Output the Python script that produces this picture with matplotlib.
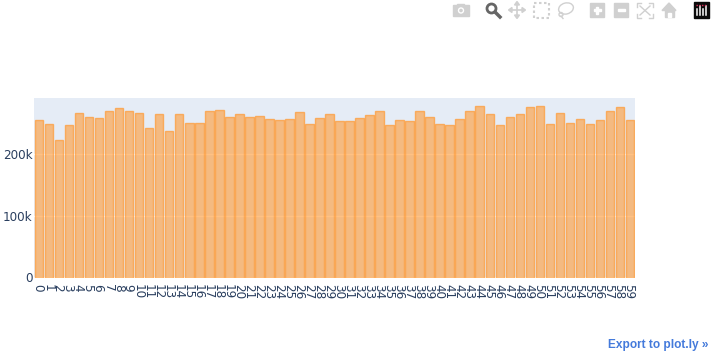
import matplotlib
matplotlib.use('Agg')
import matplotlib.pyplot as plt
from matplotlib.patches import Rectangle, Circle, Ellipse, Polygon
from matplotlib.transforms import ScaledTranslation

categories = list(range(60))
values = [255.8, 249.3, 222.7, 247.6, 267.2, 261.3, 259.7, 270.0, 274.4, 271.1,
          266.7, 242.7, 265.1, 237.8, 266.2, 250.4, 251.5, 271.1, 271.6, 260.7,
          265.1, 261.3, 262.3, 258.0, 255.0, 256.5, 268.0, 250.0, 259.5, 265.0,
          254.5, 254.8, 259.5, 264.5, 269.5, 247.0, 256.0, 254.0, 270.0, 260.5,
          250.0, 247.5, 256.5, 270.0, 278.0, 265.0, 247.0, 260.5, 265.0, 276.5,
          279.0, 249.0, 266.5, 251.0, 257.5, 250.0, 255.5, 270.0, 277.0, 256.0]
values = [v * 1000 for v in values]
y_ticks = [0, 100000, 200000]
y_labels = ['0', '100k', '200k']

W, H = 716, 359
plt.rcParams['font.family'] = ['DejaVu Sans']
fig = plt.figure(figsize=(W / 100, H / 100), dpi=100)
ax = fig.add_axes([34 / W, 1 - 277.5 / H, 601 / W, 179.5 / H])

ax.set_facecolor('#E5ECF6')
ax.bar(categories, values, width=0.85, color=(1, 0.6, 0.2, 0.6),
       edgecolor=(1, 0.6, 0.2, 0.7), linewidth=1, zorder=3)
ax.set_xlim(-0.5, 59.5)
ax.set_ylim(0, 291400)
ax.set_yticks(y_ticks)
ax.set_yticklabels(y_labels)
ax.set_xticks(categories)
ax.set_xticklabels([str(c) for c in categories], rotation=270, ha='center', va='top')
ax.tick_params(length=0, labelsize=8.64, labelcolor='#2a3f5f')
ax.tick_params(axis='x', pad=4.5)
ax.tick_params(axis='y', pad=1)
# nudge the rotated labels one pixel left, they sit off centre otherwise
nudge = ScaledTranslation(-1 / 100, 0, fig.dpi_scale_trans)
for lab in ax.get_xticklabels():
    lab.set_transform(lab.get_transform() + nudge)
ax.grid(axis='y', color='white', linewidth=1, zorder=1)
ax.set_axisbelow(True)
ax.axhline(0, color='white', linewidth=2, zorder=2)
for s in ax.spines.values():
    s.set_visible(False)

fig.text(708 / W, 1 - 345 / H, 'Export to plot.ly »', color='#447adb', fontsize=8.6,
         fontfamily='Liberation Sans', fontweight='bold', ha='right', va='center')

# modebar icons, drawn in pixel coordinates
bar = fig.add_axes([0, 0, 1, 1], facecolor='none')
bar.set_xlim(0, W)
bar.set_ylim(H, 0)
bar.axis('off')
grey = '#d0d0d0'

# camera
bar.add_patch(Rectangle((453, 5), 16, 11, color=grey))
bar.add_patch(Rectangle((457, 3.5), 7, 2, color=grey))
bar.add_patch(Circle((461, 10.5), 3.2, fc='white', ec='none'))
bar.add_patch(Circle((461, 10.5), 1.8, fc=grey, ec='none'))
# zoom (active)
bar.add_patch(Circle((491.5, 8.5), 4.5, fc='none', ec='#666666', lw=2))
bar.plot([495, 500], [12, 17], color='#666666', lw=2.5)
# pan
bar.plot([510, 524], [10, 10], color=grey, lw=1.2)
bar.plot([517, 517], [3, 17], color=grey, lw=1.2)
for pts in ([(508.5, 10), (512, 7.5), (512, 12.5)], [(525.5, 10), (522, 7.5), (522, 12.5)],
            [(517, 1.5), (514.5, 5), (519.5, 5)], [(517, 18.5), (514.5, 15), (519.5, 15)]):
    bar.add_patch(Polygon(pts, color=grey))
# box select
bar.add_patch(Rectangle((533.5, 2.5), 15, 15, fc='none', ec=grey, lw=1.5, ls=(0, (1.2, 1.2))))
# lasso
bar.add_patch(Ellipse((566, 8.5), 15, 11, angle=-15, fc='none', ec=grey, lw=1))
bar.add_patch(Circle((561, 14.5), 2, fc='none', ec=grey, lw=1))
bar.plot([561, 563], [16, 18.5], color=grey, lw=1)
# zoom in / out
bar.add_patch(Rectangle((590, 3), 14, 14, color=grey))
bar.add_patch(Rectangle((593.5, 9), 7, 2, color='white'))
bar.add_patch(Rectangle((596, 6.5), 2, 7, color='white'))
bar.add_patch(Rectangle((614, 3), 14, 14, color=grey))
bar.add_patch(Rectangle((617.5, 9), 7, 2, color='white'))
# autoscale
for cx, cy, dx, dy in [(637, 3, 1, 1), (653, 3, -1, 1), (637, 18, 1, -1), (653, 18, -1, -1)]:
    bar.plot([cx + 4 * dx, cx, cx], [cy, cy, cy + 4 * dy], color=grey, lw=1)
bar.plot([640, 650], [6, 15], color=grey, lw=1)
bar.plot([650, 640], [6, 15], color=grey, lw=1)
# home
bar.add_patch(Polygon([(662, 10.5), (669, 3), (676, 10.5)], color=grey))
bar.add_patch(Rectangle((664.5, 10), 9, 7, color=grey))
bar.add_patch(Rectangle((667.5, 13), 3, 4, color='white'))
# plotly logo
bar.add_patch(Rectangle((693.5, 2), 15.5, 16, color='#0b0b0b'))
for x, top in [(696.5, 9), (699.5, 6), (702.5, 9), (705.5, 6)]:
    bar.plot([x, x], [top, 15], color='white', lw=1.1)
bar.plot([696, 706], [4.5, 4.5], color='#e0305a', lw=1, ls=(0, (1, 1)))

fig.savefig('out.png', dpi=100)
